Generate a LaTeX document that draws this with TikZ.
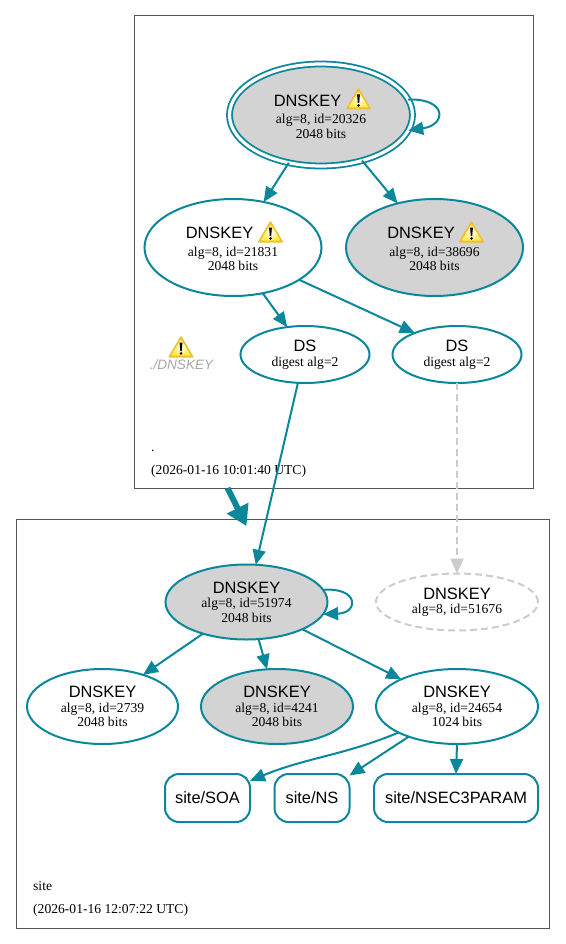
\documentclass[tikz,border=0pt]{standalone}
\usepackage{fontspec}
\setmainfont{Liberation Serif}
\setsansfont{Liberation Sans}
\usepackage{xcolor}
\usetikzlibrary{arrows.meta,shapes.geometric}
\definecolor{cedge}{RGB}{10,135,155}
\definecolor{cfill}{RGB}{211,211,211}
\definecolor{cbox}{RGB}{85,85,85}
\definecolor{cwarn}{RGB}{240,190,50}
\definecolor{cwarnin}{RGB}{255,235,70}
\newcommand{\keyname}[1]{{\fontsize{16.4}{16}\selectfont\sffamily #1}}
\newcommand{\warngap}{\hspace*{27pt}\rule{0pt}{15pt}}

\begin{document}
\begin{tikzpicture}[
  x=1pt, y=-1pt,
  font=\fontsize{13.6}{14.5}\selectfont,
  keynode/.style={ellipse, draw=cedge, line width=2pt, inner sep=0pt, outer sep=0pt, align=center, minimum width=177pt, minimum height=97pt},
  signed/.style={keynode, fill=cfill},
  smallkey/.style={keynode, minimum width=#1, minimum height=75pt},
  dsnode/.style={keynode, minimum width=129pt, minimum height=57pt},
  rrset/.style={draw=cedge, line width=2pt, rounded corners=14pt, inner sep=0pt, outer sep=0pt, minimum height=48pt, font=\fontsize{16.4}{16}\selectfont\sffamily},
  zonebox/.style={draw=cbox, line width=1pt},
  zonetext/.style={anchor=base west, inner sep=0pt},
  ar/.style={-{Triangle[length=15pt,width=13pt]}, draw=cedge, line width=2pt},
  warnsign/.pic={
    \fill[cwarn, rounded corners=1pt] (0,-11.5) -- (13,10.5) -- (-13,10.5) -- cycle;
    \shade[inner color=white, outer color=cwarnin, rounded corners=1pt] (0,-8) -- (10,8.5) -- (-10,8.5) -- cycle;
    \fill[black] (-1.4,-4.5) -- (1.4,-4.5) -- (0.7,4) -- (-0.7,4) -- cycle;
    \fill[black] (0,6.4) circle (1.4);
  },
]
\useasboundingbox (0,0) rectangle (565,944);
% zones
\draw[zonebox] (134.5,15.5) rectangle (533,488.5);
\draw[zonebox] (16,519) rectangle (549,928);
\node[zonetext] (rootname) at (151,451) {.};
\node[zonetext] (rootdate) at (151,474) {(2026-01-16 10:01:40 UTC)};
\node[zonetext] (sitename) at (33,890) {site};
\node[zonetext] (sitedate) at (33,913) {(2026-01-16 12:07:22 UTC)};
% root zone
\node[signed, double=white, draw=cedge, double distance=3.2pt, line width=1.8pt, minimum width=183pt, minimum height=102pt] (k20326) at (321,115) {\keyname{DNSKEY}\warngap\\[3pt]alg=8, id=20326\\2048 bits};
\node[keynode] (k21831) at (233,247.5) {\keyname{DNSKEY}\warngap\\[3pt]alg=8, id=21831\\2048 bits};
\node[signed] (k38696) at (434.5,247.5) {\keyname{DNSKEY}\warngap\\[3pt]alg=8, id=38696\\2048 bits};
\node[dsnode] (ds1) at (305,354.5) {\keyname{DS}\\digest alg=2};
\node[dsnode] (ds2) at (457,354.5) {\keyname{DS}\\digest alg=2};
\pic at (358.5,99) {warnsign};
\pic at (270.5,232) {warnsign};
\pic at (471.5,232) {warnsign};
\pic at (181,347) {warnsign};
\node[inner sep=0pt, text=black!35, font=\fontsize{13.6}{14}\selectfont\sffamily\itshape] (rootwarn) at (181.5,364.5) {./DNSKEY};
% site zone
\node[keynode, fill=cfill, minimum width=162pt, minimum height=75pt] (k51974) at (246.5,602) {\keyname{DNSKEY}\\alg=8, id=51974\\2048 bits};
\node[keynode, draw=black!20, dashed, dash pattern=on 7pt off 4pt, minimum width=162pt, minimum height=57pt] (k51676) at (457,602) {\keyname{DNSKEY}\\alg=8, id=51676};
\node[smallkey=151pt] (k2739) at (102.5,706.5) {\keyname{DNSKEY}\\alg=8, id=2739\\2048 bits};
\node[smallkey=152pt, fill=cfill] (k4241) at (277,706.5) {\keyname{DNSKEY}\\alg=8, id=4241\\2048 bits};
\node[smallkey=162pt] (k24654) at (457,706.5) {\keyname{DNSKEY}\\alg=8, id=24654\\1024 bits};
\node[rrset, minimum width=85pt] (soa) at (207.5,798) {site/SOA};
\node[rrset, minimum width=75pt] (ns) at (312,798) {site/NS};
\node[rrset, minimum width=164pt] (nsec) at (456,798) {site/NSEC3PARAM};
% edges
\coordinate (zonefrom) at (227.5,488);
\coordinate (zoneto) at (246.5,526);
\draw[ar] (k20326.236) -- (k21831.56);
\draw[ar] (k20326.-48) -- (k38696.130);
\draw[ar] (k21831.-57) -- (ds1.123);
\draw[ar] (k21831.-26) -- (ds2.153);
\draw[ar] (ds1.256) -- (k51974.76);
\draw[ar, draw=black!20, dashed, dash pattern=on 7pt off 4pt, -{Triangle[length=15pt,width=13pt,fill=black!20]}] (ds2.-90) -- (k51676.90);
\draw[ar] (k20326.10) .. controls (447,98) and (447,125) .. (k20326.-10);
\draw[ar] (k51974.9) .. controls (359,587) and (359,613) .. (k51974.-9);
\draw[ar] (k51974.216) -- (k2739.38);
\draw[ar] (k51974.-72) -- (k4241.105);
\draw[ar] (k51974.-26) -- (k24654.154);
\draw[ar] (k24654.204) .. controls (345,755) and (305,758) .. (soa.22);
\draw[ar] (k24654.212) -- (ns.31);
\draw[ar] (k24654.-90) -- (nsec.north);
\draw[-{Triangle[length=20pt,width=23pt]}, draw=cedge, line width=6pt] (zonefrom) -- (zoneto);
\end{tikzpicture}
\end{document}
